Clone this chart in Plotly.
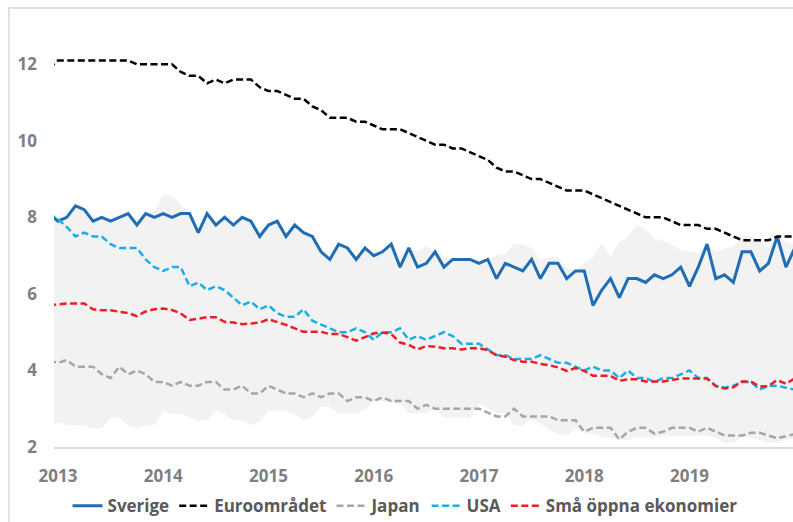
import plotly.graph_objects as go

# month index: -1 = Dec 2012, 0 = Jan 2013 ... 84 = Jan 2020
months = list(range(-1, 85))

sverige = [8.1, 7.9, 8.0, 8.3, 8.2, 7.9, 8.0, 7.9, 8.0, 8.1, 7.8, 8.1, 8.0, 8.1, 8.0, 8.1, 8.1, 7.6, 8.1, 7.8,
           8.0, 7.8, 8.0, 7.9, 7.5, 7.8, 7.9, 7.5, 7.8, 7.6, 7.5, 7.1, 6.9, 7.3, 7.2, 6.9, 7.2, 7.0, 7.1, 7.3,
           6.7, 7.2, 6.7, 6.8, 7.1, 6.7, 6.9, 6.9, 6.9, 6.8, 6.9, 6.4, 6.8, 6.7, 6.6, 6.9, 6.4, 6.8, 6.8, 6.4,
           6.6, 6.6, 5.7, 6.1, 6.4, 5.9, 6.4, 6.4, 6.3, 6.5, 6.4, 6.5, 6.7, 6.2, 6.7, 7.3, 6.4, 6.5, 6.3, 7.1,
           7.1, 6.6, 6.8, 7.5, 6.7, 7.2]

euro = [11.9, 12.1, 12.1, 12.1, 12.1, 12.1, 12.1, 12.1, 12.1, 12.1, 12.0, 12.0, 12.0, 12.0, 12.0, 11.8, 11.7, 11.7, 11.5, 11.6,
        11.5, 11.6, 11.6, 11.6, 11.4, 11.3, 11.3, 11.2, 11.1, 11.1, 10.9, 10.8, 10.6, 10.6, 10.6, 10.5, 10.5, 10.4, 10.3, 10.3,
        10.3, 10.2, 10.1, 10.0, 9.9, 9.9, 9.8, 9.8, 9.7, 9.6, 9.5, 9.3, 9.2, 9.2, 9.1, 9.0, 9.0, 8.9, 8.8, 8.7,
        8.7, 8.7, 8.6, 8.5, 8.4, 8.3, 8.2, 8.1, 8.0, 8.0, 8.0, 7.9, 7.8, 7.8, 7.8, 7.7, 7.7, 7.6, 7.5, 7.4,
        7.4, 7.4, 7.4, 7.5, 7.5, 7.5]

japan = [4.25, 4.2, 4.27, 4.1, 4.1, 4.1, 3.9, 3.8, 4.1, 3.9, 4.0, 3.9, 3.7, 3.7, 3.6, 3.7, 3.6, 3.6, 3.7, 3.7,
         3.5, 3.5, 3.6, 3.4, 3.4, 3.6, 3.5, 3.4, 3.4, 3.3, 3.4, 3.3, 3.4, 3.4, 3.2, 3.3, 3.3, 3.2, 3.3, 3.2,
         3.2, 3.2, 3.0, 3.1, 3.0, 3.0, 3.0, 3.0, 3.0, 3.0, 2.9, 2.8, 2.8, 3.0, 2.8, 2.8, 2.8, 2.8, 2.7, 2.7,
         2.7, 2.4, 2.5, 2.5, 2.5, 2.2, 2.4, 2.5, 2.5, 2.35, 2.4, 2.5, 2.5, 2.5, 2.4, 2.5, 2.4, 2.3, 2.3, 2.3,
         2.37, 2.37, 2.3, 2.23, 2.28, 2.34]

usa = [8.1, 7.95, 7.75, 7.5, 7.6, 7.5, 7.5, 7.3, 7.2, 7.2, 7.2, 6.9, 6.7, 6.6, 6.7, 6.7, 6.2, 6.3, 6.1, 6.2,
       6.1, 5.9, 5.7, 5.8, 5.6, 5.7, 5.5, 5.4, 5.4, 5.6, 5.3, 5.2, 5.1, 5.0, 5.0, 5.1, 5.0, 4.8, 5.0, 5.0,
       5.1, 4.8, 4.9, 4.8, 4.9, 5.0, 4.9, 4.7, 4.7, 4.7, 4.55, 4.4, 4.4, 4.3, 4.3, 4.3, 4.4, 4.3, 4.2, 4.2,
       4.1, 4.0, 4.1, 4.0, 4.0, 3.8, 4.0, 3.8, 3.8, 3.7, 3.8, 3.8, 3.9, 4.0, 3.8, 3.8, 3.6, 3.55, 3.6, 3.7,
       3.7, 3.5, 3.6, 3.6, 3.55, 3.5]

sma = [5.7, 5.72, 5.75, 5.75, 5.75, 5.6, 5.57, 5.57, 5.54, 5.5, 5.42, 5.54, 5.6, 5.62, 5.58, 5.49, 5.32, 5.36, 5.39, 5.39,
       5.27, 5.25, 5.21, 5.23, 5.25, 5.34, 5.27, 5.19, 5.1, 5.01, 5.01, 5.01, 4.95, 4.95, 4.87, 4.78, 4.87, 4.97, 4.99, 4.95,
       4.73, 4.67, 4.55, 4.64, 4.62, 4.58, 4.58, 4.55, 4.58, 4.58, 4.53, 4.4, 4.36, 4.27, 4.23, 4.23, 4.17, 4.14, 4.08, 3.99,
       4.06, 3.99, 3.86, 3.86, 3.86, 3.73, 3.77, 3.77, 3.71, 3.71, 3.71, 3.75, 3.79, 3.79, 3.79, 3.79, 3.59, 3.53, 3.56, 3.71,
       3.71, 3.58, 3.59, 3.75, 3.65, 3.79]

band_top = [8.1, 7.95, 8.0, 8.3, 8.2, 7.9, 8.0, 7.9, 8.0, 8.1, 7.8, 8.1, 8.15, 8.6, 8.55, 8.35, 8.1, 7.6, 8.1, 7.8,
            8.0, 7.8, 8.0, 7.9, 7.5, 7.8, 7.9, 7.5, 7.8, 7.6, 7.5, 7.1, 6.9, 7.3, 7.2, 6.9, 7.2, 7.0, 7.1, 7.3,
            7.0, 7.2, 7.1, 7.25, 7.1, 7.0, 6.9, 6.9, 6.9, 6.9, 6.9, 7.0, 7.05, 7.3, 7.3, 7.2, 6.9, 6.97, 6.95, 6.67,
            6.61, 6.8, 6.97, 7.32, 6.97, 7.36, 7.49, 7.81, 7.68, 7.45, 7.39, 7.28, 7.15, 7.1, 7.06, 7.3, 7.08, 7.19, 7.24, 7.51,
            7.51, 7.36, 7.19, 7.5, 7.36, 7.28]

band_bottom = [2.45, 2.66, 2.57, 2.57, 2.57, 2.49, 2.49, 2.77, 2.77, 2.57, 2.49, 2.57, 2.57, 2.95, 2.86, 2.86, 2.77, 2.69, 2.69, 2.95,
               2.86, 2.69, 2.69, 2.57, 2.66, 2.95, 2.95, 2.95, 2.84, 2.69, 2.79, 3.05, 3.05, 2.88, 2.88, 2.88, 2.97, 3.2, 3.2, 3.16,
               3.12, 2.88, 2.88, 2.88, 3.01, 2.77, 2.77, 2.77, 2.77, 3.14, 3.01, 2.88, 2.88, 2.57, 2.57, 2.72, 2.62, 2.45, 2.34, 2.29,
               2.49, 2.37, 2.34, 2.27, 2.23, 2.18, 2.18, 2.27, 2.27, 2.25, 2.29, 2.29, 2.29, 2.29, 2.29, 2.31, 2.23, 2.1, 2.1, 2.27,
               2.25, 2.18, 2.11, 2.1, 2.18, 2.23]

year_ticks = [0, 12, 24, 36, 48, 60, 72]
year_labels = ["2013", "2014", "2015", "2016", "2017", "2018", "2019"]
y_ticks = [2, 4, 6, 8, 10, 12]

FONT = "Open Sans"
fig = go.Figure()

fig.add_trace(go.Scatter(x=months, y=band_bottom, mode="lines", line=dict(width=0),
                         showlegend=False, hoverinfo="skip"))
fig.add_trace(go.Scatter(x=months, y=band_top, mode="lines", line=dict(width=0),
                         fill="tonexty", fillcolor="#f2f2f2", showlegend=False, hoverinfo="skip"))

dash = "7px,3.5px"
fig.add_trace(go.Scatter(x=months, y=sverige, mode="lines", name="Sverige",
                         line=dict(color="#1f6db5", width=3)))
fig.add_trace(go.Scatter(x=months, y=euro, mode="lines", name="Euroområdet",
                         line=dict(color="#000000", width=2.5, dash=dash)))
fig.add_trace(go.Scatter(x=months, y=japan, mode="lines", name="Japan",
                         line=dict(color="#a6a6a6", width=2.5, dash=dash)))
fig.add_trace(go.Scatter(x=months, y=usa, mode="lines", name="USA",
                         line=dict(color="#1aaee8", width=2.5, dash=dash)))
fig.add_trace(go.Scatter(x=months, y=sma, mode="lines", name="Små öppna ekonomier",
                         line=dict(color="#ee1c25", width=2.5, dash=dash)))

fig.update_layout(
    width=793, height=522,
    margin=dict(l=54, r=0, t=26, b=75, autoexpand=False),
    paper_bgcolor="white", plot_bgcolor="white",
    font=dict(family=FONT, size=17, color="#7f7f7f"),
    showlegend=True,
    legend=dict(orientation="h", x=0.475, xanchor="center", y=-0.098, yanchor="top",
                traceorder="normal",
                font=dict(family=FONT, size=17, color="#595959", weight="bold"),
                itemwidth=30, bgcolor="rgba(0,0,0,0)"),
    xaxis=dict(range=[-0.45, 83.8], tickmode="array", tickvals=year_ticks, ticktext=year_labels,
               showgrid=False, zeroline=False, showline=True, linecolor="#d9d9d9", linewidth=1.5,
               ticks="", ticklabelstandoff=13, automargin=False,
               tickfont=dict(family=FONT, size=17, color="#7f7f7f", weight="bold")),
    yaxis=dict(range=[2, 13], tickmode="array", tickvals=y_ticks, automargin=False,
               showgrid=False, zeroline=False, showline=False, ticks="", ticklabelstandoff=16,
               tickfont=dict(family=FONT, size=17, color="#7f7f7f", weight="bold")),
    shapes=[dict(type="rect", xref="paper", yref="paper", x0=-0.061, x1=1.02, y0=-0.25, y1=1.043,
                 line=dict(color="#d9d9d9", width=1.5), fillcolor="rgba(0,0,0,0)", layer="below")],
)

fig.write_html("out.html", config={"displayModeBar": False},
               post_script="document.body.style.margin='0';document.body.style.overflow='hidden';")
